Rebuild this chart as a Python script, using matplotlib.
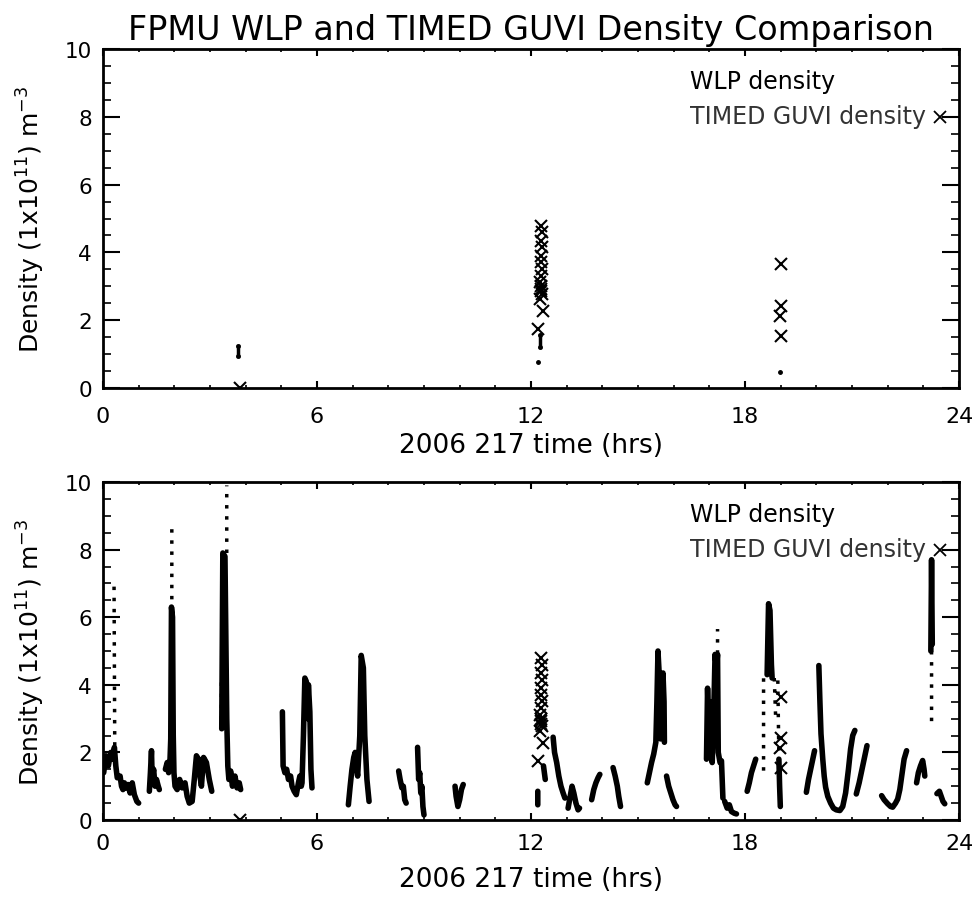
import numpy as np
import matplotlib
matplotlib.use("Agg")
import matplotlib.pyplot as plt
from matplotlib.ticker import MultipleLocator

nan = np.nan

# ---------------- data (time in hrs of 2006 day 217, density in 1e11 m^-3) ----------------
# WLP density, bottom panel, dense (solid-looking) stretches; nan separates passes
wlp_t = [0.02, 0.08, 0.15, 0.22, 0.28, 0.32, 0.36, 0.40, nan,
         0.48, 0.52, 0.56, 0.60, 0.64, nan,
         0.70, 0.76, 0.82, 0.88, 0.95, 1.00, nan,
         1.30, 1.33, 1.36, 1.38, 1.42, 1.46, 1.50, 1.55, 1.58, nan,
         1.75, 1.80, 1.84, 1.88, 1.90, 1.92, 1.95, 1.97, 1.99, 2.02, 2.08, 2.15, 2.22, 2.30, 2.36, 2.42, 2.50,
         2.56, 2.62, 2.68, 2.72, 2.76, 2.82, 2.90, 2.98, 3.05, nan,
         3.33, 3.36, 3.42, 3.47, 3.50, 3.53, 3.58, 3.63, 3.70, 3.76, 3.82, 3.86, nan,
         5.03, 5.05, 5.10, 5.15, 5.20, 5.26, 5.30, 5.36, 5.42, 5.48, 5.52, 5.56, 5.58, 5.62, 5.66, 5.70,
         5.74, 5.76, 5.80, 5.83, 5.86, nan,
         6.88, 6.93, 6.98, 7.03, 7.07, 7.10, 7.14, 7.20, 7.24, 7.30, 7.34, 7.40, 7.46, nan,
         8.29, 8.33, 8.38, 8.42, 8.46, 8.50, nan,
         8.82, 8.85, 8.88, 8.91, 8.94, 8.97, 9.00, nan,
         9.87, 9.90, 9.95, 10.00, 10.05, 10.10, nan,
         12.19, 12.19, nan, 12.35, 12.40, nan,
         12.62, 12.66, 12.72, 12.78, 12.84, 12.90, 12.95, nan,
         13.04, 13.10, 13.15, 13.20, 13.26, 13.32, 13.36, nan,
         13.70, 13.76, 13.82, 13.88, 13.93, nan,
         14.30, 14.36, 14.42, 14.46, 14.51, nan,
         15.26, 15.32, 15.38, 15.44, 15.50, 15.53, 15.56, 15.60, 15.63, 15.67, 15.70, 15.73, 15.74, nan,
         15.80, 15.86, 15.92, 15.98, 16.04, 16.08, nan,
         16.92, 16.95, 17.00, 17.04, 17.08, 17.12, 17.16, 17.20, 17.23, 17.25, 17.30, 17.34, 17.36, 17.38, nan,
         17.43, 17.50, 17.56, 17.62, 17.70, 17.76, nan,
         18.06, 18.12, 18.18, 18.24, 18.30, nan,
         18.62, 18.66, 18.70, 18.74, 18.76, nan,
         18.95, 18.97, 18.99, nan,
         19.72, 19.78, 19.84, 19.90, 19.95, nan,
         20.07, 20.10, 20.13, 20.18, 20.22, 20.26, 20.32, 20.40, 20.48, 20.56, 20.66, 20.74, 20.82, 20.90,
         20.96, 21.02, 21.08, nan,
         21.12, 21.20, 21.28, 21.36, 21.42, nan,
         21.83, 21.90, 22.00, 22.08, 22.14, 22.22, 22.28, 22.34, 22.40, 22.46, 22.53, nan,
         22.81, 22.86, 22.92, 22.98, 23.02, 23.04, nan,
         23.21, 23.23, 23.25, nan,
         23.38, 23.45, 23.50, 23.55, 23.60]
wlp_n = [1.40, 1.90, 1.60, 2.00, 1.80, 2.15, 1.60, 1.25, nan,
         1.30, 1.00, 0.90, 1.10, 0.95, nan,
         1.05, 0.80, 1.10, 0.75, 0.55, 0.50, nan,
         0.85, 1.40, 2.05, 1.20, 1.50, 1.00, 1.20, 1.00, 0.90, nan,
         1.50, 1.70, 1.40, 1.80, 2.40, 6.30, 6.00, 2.50, 1.40, 1.00, 0.90, 1.20, 0.95, 1.10, 0.70, 0.50, 0.55,
         1.20, 1.90, 1.80, 1.30, 1.00, 1.85, 1.70, 1.20, 0.85, nan,
         2.70, 7.90, 7.80, 3.00, 1.60, 1.20, 1.45, 1.00, 1.30, 0.95, 1.10, 0.90, nan,
         3.20, 1.60, 1.40, 1.50, 1.20, 1.30, 1.00, 0.85, 0.75, 1.10, 1.30, 1.00, 1.10, 2.50, 4.20, 4.10,
         3.00, 4.00, 3.20, 1.50, 0.95, nan,
         0.45, 1.00, 1.50, 1.85, 2.00, 1.60, 1.30, 2.50, 4.87, 4.50, 2.50, 1.20, 0.55, nan,
         1.45, 1.20, 0.95, 1.00, 0.60, 0.50, nan,
         2.15, 1.20, 1.40, 0.80, 1.00, 0.40, 0.15, nan,
         1.00, 0.70, 0.40, 0.60, 0.90, 1.05, nan,
         0.45, 0.85, nan, 1.60, 1.20, nan,
         2.45, 2.00, 1.70, 1.30, 1.00, 0.80, 0.65, nan,
         0.35, 0.70, 1.00, 0.80, 0.50, 0.30, 0.35, nan,
         0.60, 0.90, 1.10, 1.25, 1.35, nan,
         1.55, 1.30, 1.00, 0.70, 0.40, nan,
         1.10, 1.40, 1.70, 1.95, 2.30, 3.50, 5.00, 4.20, 2.40, 3.00, 4.35, 3.50, 2.30, nan,
         1.30, 1.00, 0.80, 0.60, 0.45, 0.40, nan,
         1.80, 3.90, 2.00, 3.50, 1.70, 3.00, 4.90, 4.50, 4.90, 2.00, 1.70, 1.75, 1.20, 0.65, nan,
         0.55, 0.35, 0.45, 0.25, 0.20, 0.18, nan,
         0.85, 1.10, 1.40, 1.60, 1.80, nan,
         4.30, 6.40, 6.20, 4.60, 4.20, nan,
         1.80, 1.00, 0.40, nan,
         0.82, 1.20, 1.50, 1.80, 2.05, nan,
         4.57, 3.50, 2.55, 1.80, 1.30, 0.97, 0.70, 0.50, 0.35, 0.30, 0.28, 0.40, 0.80, 1.50,
         2.10, 2.50, 2.65, nan,
         0.77, 1.10, 1.50, 1.90, 2.20, nan,
         0.72, 0.60, 0.48, 0.40, 0.38, 0.50, 0.62, 0.90, 1.36, 1.80, 2.05, nan,
         1.10, 1.40, 1.60, 1.76, 1.50, 1.30, nan,
         5.00, 7.70, 5.20, nan,
         0.78, 0.85, 0.70, 0.55, 0.48]

# WLP density, bottom panel, sparse (dotted-looking) stretches
wlp_sparse_t = [0.33, 0.31, nan, 1.93, 1.93, nan, 3.47, 3.47, nan, 3.32, 3.32, nan,
                15.55, 15.55, nan, 17.23, 17.23, nan, 18.52, 18.52, nan, 18.82, 18.86, nan,
                18.92, 18.95, nan, 23.23, 23.23]
wlp_sparse_n = [2.20, 7.00, nan, 6.20, 8.66, nan, 7.90, 9.90, nan, 2.65, 4.10, nan,
                3.50, 5.06, nan, 4.92, 5.65, nan, 1.46, 4.32, nan, 4.20, 3.00, nan,
                4.13, 1.80, nan, 5.00, 2.70]

# WLP density at the GUVI coincidence times (top panel)
wlp_top_t = [3.79, 3.79, nan, 12.20, nan, 12.26, 12.26, nan, 18.98]
wlp_top_n = [0.94, 1.24, nan, 0.77, nan, 1.20, 1.55, nan, 0.47]

# TIMED GUVI density (both panels)
guvi_t = [3.84,
          12.28, 12.30, 12.28, 12.31, 12.29, 12.27, 12.30, 12.28, 12.25, 12.28, 12.30, 12.26,
          12.29, 12.27, 12.33, 12.20,
          19.00, 19.00, 18.99, 19.00]
guvi_n = [0.00,
          4.79, 4.59, 4.35, 4.15, 3.90, 3.71, 3.51, 3.31, 3.12, 2.92, 2.77, 2.63,
          3.00, 2.85, 2.28, 1.74,
          3.65, 2.43, 2.12, 1.53]

title = "FPMU WLP and TIMED GUVI Density Comparison"
xlabel = "2006 217 time (hrs)"
ylabel = r"Density (1x10$^{11}$) m$^{-3}$"
legend_labels = ["WLP density", "TIMED GUVI density"]
xticks = [0, 6, 12, 18, 24]
yticks = [0, 2, 4, 6, 8, 10]

# ---------------- figure ----------------
plt.rcParams['font.family'] = ['DejaVu Sans']
fig = plt.figure(figsize=(9.77, 9.03), dpi=100)
left, right = 0.1054, 0.9816
ax1 = fig.add_axes([left, 0.5692, right - left, 0.9446 - 0.5692])
ax2 = fig.add_axes([left, 0.0908, right - left, 0.4651 - 0.0908])


def style(ax, xpad, xlpad):
    ax.set_xlim(0, 24)
    ax.set_ylim(0, 10)
    ax.set_xticks(xticks)
    ax.set_yticks(yticks)
    ax.xaxis.set_minor_locator(MultipleLocator(1))
    ax.yaxis.set_minor_locator(MultipleLocator(0.5))
    ax.tick_params(axis='x', which='major', direction='in', length=5, width=1.5,
                   top=True, bottom=True, labelsize=16, pad=xpad)
    ax.tick_params(axis='x', which='minor', direction='in', length=2.5, width=1.2,
                   top=True, bottom=True)
    ax.tick_params(axis='y', which='major', direction='in', length=12, width=1.5,
                   left=True, right=True, labelsize=15.5, pad=8)
    ax.tick_params(axis='y', which='minor', direction='in', length=6, width=1.2,
                   left=True, right=True)
    for s in ax.spines.values():
        s.set_linewidth(2)
    ax.set_xlabel(xlabel, fontsize=19, labelpad=xlpad)
    ax.set_ylabel(ylabel, fontsize=18, labelpad=13)
    ax.text(0.686, 0.905, legend_labels[0], transform=ax.transAxes, fontsize=17,
            va='center', ha='left', color='black')
    ax.text(0.686, 0.803, legend_labels[1], transform=ax.transAxes, fontsize=17,
            va='center', ha='left', color='#333333')
    ax.plot([0.978], [0.800], transform=ax.transAxes, marker='x', color='black',
            markersize=8, mew=1.3, linestyle='none', clip_on=False)


# top panel
ax1.plot(wlp_top_t, wlp_top_n, color='black', lw=2.5, marker='o', markersize=2.5)
ax1.plot(guvi_t, guvi_n, linestyle='none', marker='x', color='black',
         markersize=8, mew=1.5)
style(ax1, 13, 4)
ax1.set_title(title, fontsize=24, pad=7)

# bottom panel
ax2.plot(wlp_t, wlp_n, color='black', lw=4, solid_joinstyle='round', solid_capstyle='round')
ax2.plot(wlp_sparse_t, wlp_sparse_n, color='black', lw=2.5, linestyle=(0, (1, 2.2)))
ax2.plot(guvi_t, guvi_n, linestyle='none', marker='x', color='black',
         markersize=8, mew=1.5)
style(ax2, 9, 10)

fig.savefig("out.png", dpi=100)
